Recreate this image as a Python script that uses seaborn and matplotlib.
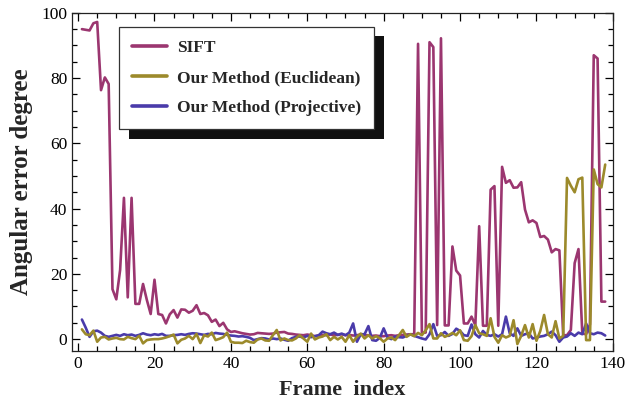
import numpy as np
import pandas as pd
import seaborn as sns
import matplotlib
matplotlib.use("Agg")
import matplotlib.pyplot as plt
from matplotlib.ticker import MultipleLocator
import matplotlib.patheffects as pe

frames = list(range(1, 139))

sift = [95.0, 94.8, 94.6, 96.8, 97.2, 76.3, 80.2, 78.2, 15.3, 12.2,
        21.2, 43.3, 12.8, 43.3, 10.8, 10.8, 16.9, 12.0, 7.7, 18.2,
        7.7, 7.4, 4.8, 7.6, 8.9, 6.6, 9.1, 9.0, 8.1, 8.7,
        10.4, 7.7, 8.0, 7.3, 5.3, 6.0, 4.0, 5.0, 3.0, 2.2,
        2.4, 2.1, 1.8, 1.6, 1.4, 1.5, 1.9, 1.8, 1.7, 1.6,
        1.7, 2.0, 2.1, 2.2, 1.7, 1.6, 1.4, 1.3, 1.2, 1.4,
        1.2, 0.9, 1.1, 1.3, 1.2, 1.4, 1.2, 1.3, 1.5, 1.2,
        1.3, 1.1, 1.2, 1.4, 1.2, 1.2, 1.0, 1.1, 0.9, 0.9,
        1.1, 1.2, 1.0, 1.2, 1.3, 1.4, 1.5, 1.5, 90.5, 2.0,
        2.0, 91.0, 89.5, 4.3, 92.2, 4.2, 4.2, 28.4, 21.0, 19.5,
        4.8, 4.8, 6.9, 4.3, 34.6, 4.1, 4.1, 45.8, 46.9, 4.1,
        52.8, 47.9, 48.7, 46.4, 46.5, 48.1, 39.7, 35.8, 36.4, 35.6,
        31.3, 31.6, 30.5, 26.6, 27.6, 27.2, 1.2, 1.2, 2.8, 23.3,
        27.6, 1.7, 1.5, 4.5, 87.0, 86.0, 11.5, 11.5]

euclidean = [3.0, 1.5, 1.2, 2.6, -0.8, 0.5, 0.7, -0.1, 0.2, 0.4,
             0.0, -0.1, 0.7, 0.3, 0.0, 1.0, -1.3, -0.3, -0.1, 0.0,
             0.0, 0.2, 0.5, 0.9, 1.4, -1.3, -0.2, 0.2, 1.0, 0.0,
             1.6, -1.2, 1.2, 0.8, 2.0, -0.3, 0.1, 0.6, 2.0, -0.8,
             -1.1, -1.1, -1.2, -0.5, -0.9, -1.1, -0.1, 0.2, -0.4, -0.5,
             1.2, 2.8, -0.4, 0.2, -0.3, -0.4, 0.2, 1.2, 0.2, -0.8,
             1.7, -0.1, 0.5, 0.8, 1.5, -0.3, 0.7, -0.1, 0.7, -0.8,
             1.2, -0.8, 0.7, 1.7, 0.2, 1.2, 0.2, 0.9, 0.3, -0.8,
             0.2, 0.5, -0.3, 1.2, 2.8, 0.7, 1.5, 0.9, 1.9, 1.2,
             2.7, 4.6, 0.2, 0.2, 1.8, 0.7, 1.2, 1.9, 1.2, 2.7,
             -0.3, -0.5, 0.9, 4.3, 1.8, 1.5, 1.0, 6.4, 0.7, -1.1,
             1.2, 0.5, 1.0, 5.8, -1.5, 1.0, 4.3, 0.5, 4.6, -0.5,
             2.5, 7.4, 1.5, 0.5, 5.5, 0.2, 1.0, 49.4, 47.0, 45.0,
             49.0, 49.5, -0.3, -0.3, 52.0, 47.5, 46.5, 53.5]

projective = [6.0, 3.5, 0.7, 2.4, 2.6, 2.0, 1.0, 0.7, 1.0, 1.3,
              1.0, 1.5, 1.2, 1.4, 1.0, 1.3, 1.8, 1.4, 1.2, 1.5,
              1.3, 1.6, 1.0, 1.0, 1.2, 1.3, 1.5, 1.3, 1.6, 1.8,
              1.7, 1.5, 1.3, 1.6, 1.5, 1.9, 1.7, 1.6, 1.3, 1.1,
              1.0, 0.8, 0.9, 0.7, 0.4, -0.3, 0.0, 0.3, 0.2, -0.1,
              0.2, 0.0, 0.2, -0.2, -0.5, 0.3, 0.7, 0.8, 0.5, 1.0,
              0.6, 0.9, 1.2, 2.3, 1.8, 1.5, 2.0, 1.3, 1.7, 1.2,
              2.0, 4.8, -0.8, 1.5, 1.5, 4.0, -0.3, -0.5, 0.4, 3.3,
              0.5, 0.0, 0.8, 0.6, 0.5, 1.0, 1.5, 1.0, 0.6, 0.2,
              -0.1, 1.5, 4.6, 1.0, 1.2, 2.2, 1.0, 1.6, 3.2, 2.5,
              1.2, 1.0, 4.5, 1.5, 0.5, 2.5, 1.3, 1.0, 1.5, 0.8,
              1.5, 6.9, 1.8, 1.0, 3.3, 1.0, 1.5, 1.8, 0.2, 0.5,
              0.8, 1.0, 1.5, 2.3, 1.2, -0.8, 0.5, 0.8, 1.8, 1.0,
              2.0, 1.5, 4.8, 1.8, 1.5, 2.0, 1.8, 1.1]

labels = ["SIFT", "Our Method (Euclidean)", "Our Method (Projective)"]
colors = ["#9B3670", "#9C8A2B", "#4A3BAA"]

sns.set_style("ticks")
plt.rcParams["font.family"] = ["Liberation Serif", "DejaVu Serif"]

fig, ax = plt.subplots(figsize=(6.26, 4.01), dpi=100)
fig.subplots_adjust(left=0.115, right=0.979, top=0.968, bottom=0.125)

series = [sift, euclidean, projective]
zorders = [2, 4, 3]
for vals, lab, col, z in zip(series, labels, colors, zorders):
    sns.lineplot(x=frames, y=vals, ax=ax, color=col, linewidth=1.9,
                 label=lab, zorder=z)

ax.set_xlim(-1.6, 140)
ax.set_ylim(-3.6, 100)
ax.xaxis.set_major_locator(MultipleLocator(20))
ax.xaxis.set_minor_locator(MultipleLocator(5))
ax.yaxis.set_major_locator(MultipleLocator(20))
ax.yaxis.set_minor_locator(MultipleLocator(5))
ax.tick_params(which="both", direction="in", top=True, right=True,
               labelsize=12.5, colors="black", width=0.9)
ax.tick_params(which="major", length=6)
ax.tick_params(which="minor", length=3.5)
for sp in ax.spines.values():
    sp.set_linewidth(0.9)
    sp.set_color("#222222")

ax.set_xlabel("Frame  index", fontsize=16, fontweight="bold", labelpad=6)
ax.set_ylabel("Angular error degree", fontsize=18, fontweight="bold", labelpad=6)

leg = ax.legend(loc="upper left", bbox_to_anchor=(0.087, 0.959), borderaxespad=0,
                prop={"weight": "bold", "size": 12.5}, frameon=True, fancybox=False,
                handlelength=2.0, handletextpad=0.6, labelspacing=0.8,
                borderpad=0.75)
frame = leg.get_frame()
frame.set_edgecolor("#333333")
frame.set_linewidth(0.9)
frame.set_alpha(1)
frame.set_path_effects([pe.SimplePatchShadow(offset=(7.2, -7), shadow_rgbFace="#111111", alpha=1),
                        pe.Normal()])
for line in leg.get_lines():
    line.set_linewidth(2.6)

fig.savefig("out.png", dpi=100)
